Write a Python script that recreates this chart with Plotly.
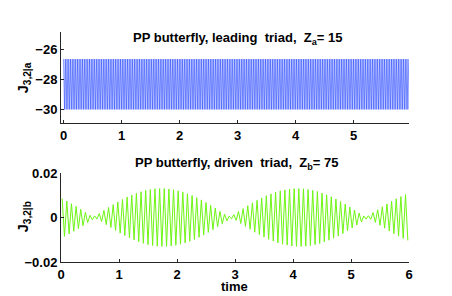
import plotly.graph_objects as go

# ---- data ----
# top panel: fast oscillation with constant extremes
top_t_start = 0.0
top_t_end = 5.95
top_n_cycles = 200
top_hi = -26.65
top_lo = -30.0

# bottom panel: peak amplitudes (x1e-3) of each carrier cycle
bot_t_start = 0.0
bot_period = 0.08
bot_amp_milli = [8.5, 7.4, 6.2, 5.0, 3.7, 2.3, 1.0, 0.7, 1.8, 3.2,
                 4.5, 5.8, 7.0, 8.1, 9.2, 10.1, 10.9, 11.6, 12.2, 12.6,
                 12.9, 13.0, 13.0, 12.8, 12.5, 12.0, 11.4, 10.7, 9.9, 8.9,
                 7.9, 6.7, 5.5, 4.2, 2.8, 1.5, 0.6, 1.3, 2.7, 4.0,
                 5.3, 6.6, 7.7, 8.8, 9.8, 10.6, 11.4, 12.0, 12.4, 12.8,
                 13.0, 13.0, 12.9, 12.6, 12.2, 11.7, 11.0, 10.2, 9.3, 8.3,
                 7.2, 6.0, 4.7, 3.4, 2.0, 0.7, 0.8, 2.2, 3.5, 4.8,
                 6.1, 7.3, 8.4, 9.4, 10.3]

top_xticks = [0, 1, 2, 3, 4, 5]
top_yticks = [-26, -28, -30]
bot_xticks = [0, 1, 2, 3, 4, 5, 6]
bot_yticks = [-0.02, 0, 0.02]
bot_ytext = ["\u22120.02", "0", "0.02"]

title_top = "PP butterfly, leading  triad,  Z<sub>a</sub>= 15"
title_bot = "PP butterfly, driven  triad,  Z<sub>b</sub>= 75"
ylab_top = "J<sub>3,2|a</sub>"
ylab_bot = "J<sub>3,2|b</sub>"
xlab_bot = "time"

# ---- build series ----
n_top = 2 * top_n_cycles + 1
step = (top_t_end - top_t_start) / (n_top - 1)
top_x = [top_t_start + i * step for i in range(n_top)]
top_y = [top_hi if i % 2 == 0 else top_lo for i in range(n_top)]

bot_x, bot_y = [], []
for k, a in enumerate(bot_amp_milli):
    t0 = bot_t_start + k * bot_period
    bot_x += [t0 + 0.25 * bot_period, t0 + 0.75 * bot_period]
    bot_y += [a * 1e-3, -a * 1e-3]

fig = go.Figure()
fig.add_trace(go.Scatter(x=top_x, y=top_y, mode="lines",
                         line=dict(color="rgba(45,75,255,0.72)", width=0.85),
                         xaxis="x", yaxis="y", showlegend=False, hoverinfo="skip"))
fig.add_trace(go.Scatter(x=bot_x, y=bot_y, mode="lines",
                         line=dict(color="rgb(110,245,20)", width=1.0),
                         xaxis="x2", yaxis="y2", showlegend=False, hoverinfo="skip"))

W, H = 452, 296
L, R, T, B = 61, 409.3, 31.7, 261.7
top_bot_px = 122.7
bot_top_px = 172.7
ph = B - T

def dom_y(px_top, px_bot):
    return [1 - (px_bot - T) / ph, 1 - (px_top - T) / ph]

font_tick = dict(family="Liberation Sans, Arial, sans-serif", size=13, color="black",
                 weight="bold")
axcommon = dict(showline=True, linecolor="#262626", linewidth=1, ticks="inside",
                ticklen=3, tickcolor="#262626", showgrid=False, zeroline=False,
                mirror=False, tickfont=font_tick, automargin=False)

fig.update_layout(
    width=W, height=H,
    margin=dict(l=L, r=W - R, t=T, b=H - B, pad=0, autoexpand=False),
    paper_bgcolor="white", plot_bgcolor="white",
    xaxis=dict(domain=[0, 1], range=[-0.045, 5.955], tickvals=top_xticks,
               anchor="y", **axcommon),
    yaxis=dict(domain=dom_y(T, top_bot_px), range=[-30.9, -24.85], tickvals=top_yticks,
               anchor="x", **axcommon),
    xaxis2=dict(domain=[0, 1], range=[0, 6], tickvals=bot_xticks, anchor="y2", **axcommon),
    yaxis2=dict(domain=dom_y(bot_top_px, B), range=[-0.02, 0.02], tickvals=bot_yticks,
                ticktext=bot_ytext, anchor="x2", **axcommon),
)

fb = "<b>%s</b>"
afont = dict(family="Liberation Sans, Arial, sans-serif", size=13, color="black")
ann = [
    dict(text=fb % title_top, x=238, y=H - 38),
    dict(text=fb % title_bot, x=237, y=H - 163),
    dict(text=fb % xlab_bot, x=235, y=H - 286),
]
annots = []
for a in ann:
    annots.append(dict(text=a["text"], x=(a["x"] - L) / (R - L), y=(a["y"] - (H - B)) / ph,
                       xref="paper", yref="paper", showarrow=False, font=afont,
                       xanchor="center", yanchor="middle"))
yfont = dict(family="Liberation Sans, Arial, sans-serif", size=14.5, color="black")
for txt, cy in [(ylab_top, 78), (ylab_bot, 217)]:
    annots.append(dict(text=fb % txt, x=(24 - L) / (R - L), y=(H - cy - (H - B)) / ph,
                       xref="paper", yref="paper", showarrow=False, font=yfont,
                       textangle=-90, xanchor="center", yanchor="middle"))
fig.update_layout(annotations=annots)

fig.write_html("out.html", config={"displayModeBar": False, "staticPlot": True},
               post_script="document.body.style.margin='0px';document.body.style.overflow='hidden';")
